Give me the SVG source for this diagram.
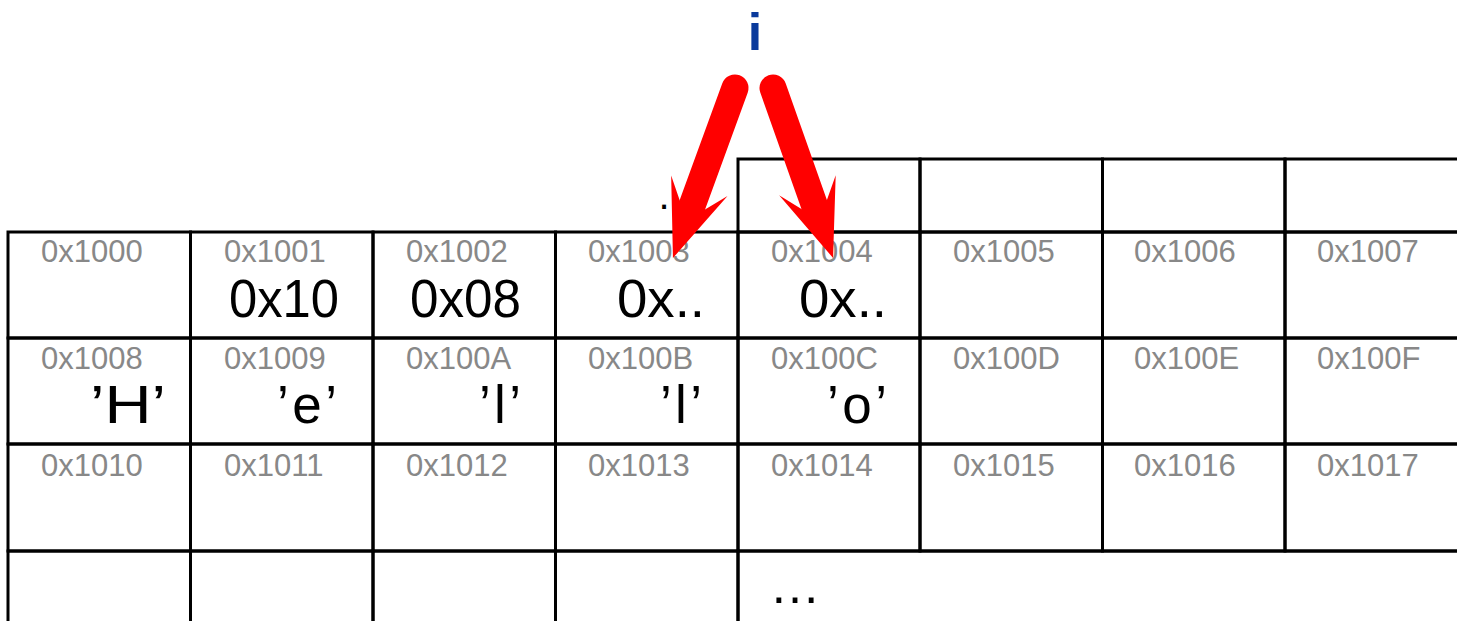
<svg xmlns="http://www.w3.org/2000/svg" width="1457" height="621" viewBox="0 0 1457 621">
<defs>
<style>
.cell{fill:none;stroke:#000;stroke-width:3}
.addr{font-family:"Liberation Sans",Arial,sans-serif;font-size:31px;fill:#888}
.val{font-family:"Liberation Sans",Arial,sans-serif;font-size:53px;fill:#000;text-anchor:end}
.dots{font-family:"Liberation Sans",Arial,sans-serif;fill:#000;text-anchor:middle}
.ptr{font-family:"Liberation Sans",Arial,sans-serif;font-weight:bold;font-size:52px;fill:#0a3a9c;text-anchor:middle}
.arrow{stroke:#ff0000;stroke-width:27;stroke-linecap:round;fill:none}
</style>
<marker id="stealth" viewBox="-40 -32 84 64" refX="0" refY="0" markerWidth="84" markerHeight="64" markerUnits="userSpaceOnUse" orient="auto">
<path d="M41,0 L-36,-30 L1,0 L-36,30 Z" fill="#ff0000"/>
</marker>
</defs>
<rect width="1457" height="621" fill="#fff"/>

<!-- top partial row -->
<g id="top-c4"><rect class="cell" x="738" y="159" width="182" height="73"/></g>
<g id="top-c5"><rect class="cell" x="920" y="159" width="182.5" height="73"/></g>
<g id="top-c6"><rect class="cell" x="1102.5" y="159" width="182.5" height="73"/></g>
<g id="top-c7"><rect class="cell" x="1285" y="159" width="182.5" height="73"/></g>

<!-- row 0 -->
<g id="cell-0x1000"><rect class="cell" x="8" y="232" width="182.5" height="106"/><text class="addr" x="41" y="262">0x1000</text></g>
<g id="cell-0x1001"><rect class="cell" x="190.5" y="232" width="182.5" height="106"/><text class="addr" x="224" y="262">0x1001</text><text class="val" x="339" y="317" textLength="110" lengthAdjust="spacingAndGlyphs">0x10</text></g>
<g id="cell-0x1002"><rect class="cell" x="373" y="232" width="182.5" height="106"/><text class="addr" x="406" y="262">0x1002</text><text class="val" x="521" y="317" textLength="111" lengthAdjust="spacingAndGlyphs">0x08</text></g>
<g id="cell-0x1003"><rect class="cell" x="555.5" y="232" width="182.5" height="106"/><text class="addr" x="588" y="262">0x1003</text><text class="val" x="705" y="317" textLength="88" lengthAdjust="spacingAndGlyphs">0x..</text></g>
<g id="cell-0x1004"><rect class="cell" x="738" y="232" width="182" height="106"/><text class="addr" x="771" y="262">0x1004</text><text class="val" x="887" y="317" textLength="88" lengthAdjust="spacingAndGlyphs">0x..</text></g>
<g id="cell-0x1005"><rect class="cell" x="920" y="232" width="182.5" height="106"/><text class="addr" x="953" y="262">0x1005</text></g>
<g id="cell-0x1006"><rect class="cell" x="1102.5" y="232" width="182.5" height="106"/><text class="addr" x="1134" y="262">0x1006</text></g>
<g id="cell-0x1007"><rect class="cell" x="1285" y="232" width="182.5" height="106"/><text class="addr" x="1317" y="262">0x1007</text></g>

<!-- row 1 -->
<g id="cell-0x1008"><rect class="cell" x="8" y="338" width="182.5" height="106"/><text class="addr" x="41" y="368.5">0x1008</text><text class="val" x="166" y="422.5" textLength="76" lengthAdjust="spacingAndGlyphs">’H’</text></g>
<g id="cell-0x1009"><rect class="cell" x="190.5" y="338" width="182.5" height="106"/><text class="addr" x="224" y="368.5">0x1009</text><text class="val" x="337" y="422.5" textLength="60" lengthAdjust="spacing">’e’</text></g>
<g id="cell-0x100A"><rect class="cell" x="373" y="338" width="182.5" height="106"/><text class="addr" x="406" y="368.5">0x100A</text><text class="val" x="521" y="422.5" textLength="42" lengthAdjust="spacing">’l’</text></g>
<g id="cell-0x100B"><rect class="cell" x="555.5" y="338" width="182.5" height="106"/><text class="addr" x="588" y="368.5">0x100B</text><text class="val" x="702" y="422.5" textLength="42" lengthAdjust="spacing">’l’</text></g>
<g id="cell-0x100C"><rect class="cell" x="738" y="338" width="182" height="106"/><text class="addr" x="771" y="368.5">0x100C</text><text class="val" x="887" y="422.5" textLength="60" lengthAdjust="spacing">’o’</text></g>
<g id="cell-0x100D"><rect class="cell" x="920" y="338" width="182.5" height="106"/><text class="addr" x="953" y="368.5">0x100D</text></g>
<g id="cell-0x100E"><rect class="cell" x="1102.5" y="338" width="182.5" height="106"/><text class="addr" x="1134" y="368.5">0x100E</text></g>
<g id="cell-0x100F"><rect class="cell" x="1285" y="338" width="182.5" height="106"/><text class="addr" x="1317" y="368.5">0x100F</text></g>

<!-- row 2 -->
<g id="cell-0x1010"><rect class="cell" x="8" y="444" width="182.5" height="107"/><text class="addr" x="41" y="475.5">0x1010</text></g>
<g id="cell-0x1011"><rect class="cell" x="190.5" y="444" width="182.5" height="107"/><text class="addr" x="224" y="475.5">0x1011</text></g>
<g id="cell-0x1012"><rect class="cell" x="373" y="444" width="182.5" height="107"/><text class="addr" x="406" y="475.5">0x1012</text></g>
<g id="cell-0x1013"><rect class="cell" x="555.5" y="444" width="182.5" height="107"/><text class="addr" x="588" y="475.5">0x1013</text></g>
<g id="cell-0x1014"><rect class="cell" x="738" y="444" width="182" height="107"/><text class="addr" x="771" y="475.5">0x1014</text></g>
<g id="cell-0x1015"><rect class="cell" x="920" y="444" width="182.5" height="107"/><text class="addr" x="953" y="475.5">0x1015</text></g>
<g id="cell-0x1016"><rect class="cell" x="1102.5" y="444" width="182.5" height="107"/><text class="addr" x="1134" y="475.5">0x1016</text></g>
<g id="cell-0x1017"><rect class="cell" x="1285" y="444" width="182.5" height="107"/><text class="addr" x="1317" y="475.5">0x1017</text></g>

<!-- row 3 -->
<g id="row3-c0"><rect class="cell" x="8" y="551" width="182.5" height="106"/></g>
<g id="row3-c1"><rect class="cell" x="190.5" y="551" width="182.5" height="106"/></g>
<g id="row3-c2"><rect class="cell" x="373" y="551" width="182.5" height="106"/></g>
<g id="row3-c3"><rect class="cell" x="555.5" y="551" width="182.5" height="106"/></g>
<g id="row3-rest"><rect class="cell" x="738" y="551" width="740" height="106"/><text class="dots" x="795" y="603" font-size="51">…</text></g>

<g id="gap-dot"><text class="dots" x="664" y="209" font-size="40">.</text></g>

<g id="pointer-i"><text class="ptr" x="755" y="50">i</text></g>

<g id="connectors">
<line class="arrow" x1="735" y1="88" x2="687" y2="219.5" marker-end="url(#stealth)"/>
<line class="arrow" x1="773" y1="88" x2="819.4" y2="219.3" marker-end="url(#stealth)"/>
</g>
</svg>
